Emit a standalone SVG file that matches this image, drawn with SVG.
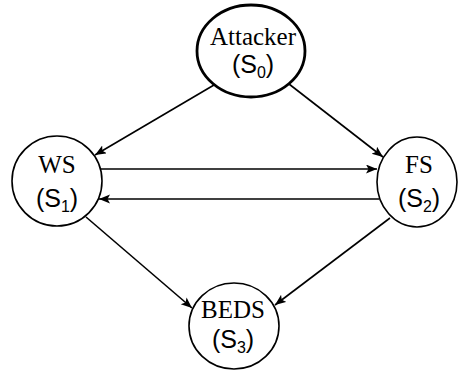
<svg xmlns="http://www.w3.org/2000/svg" width="458" height="370" viewBox="0 0 458 370">
  <style>
    .node { fill: #ffffff; stroke: #000000; stroke-width: 1.6; }
    .start { stroke-width: 2.8; }
    .name { font-family: "Liberation Serif", "Times New Roman", serif; font-size: 25px; fill: #000; text-anchor: middle; }
    .state { font-family: "Liberation Sans", Arial, sans-serif; font-size: 25px; fill: #000; text-anchor: middle; }
    .sub { font-size: 16px; }
    .edge { stroke: #000; stroke-width: 1.6; fill: none; marker-end: url(#arrow); }
  </style>
  <defs>
    <marker id="arrow" markerUnits="userSpaceOnUse" markerWidth="12" markerHeight="10" refX="11" refY="4.5" orient="auto">
      <path d="M0,0 L11,4.5 L0,9 L2.5,4.5 z" fill="#000"/>
    </marker>
  </defs>
  <rect width="458" height="370" fill="#ffffff"/>
  <g id="connectors">
    <line class="edge" x1="214" y1="85" x2="95" y2="155"/>
    <line class="edge" x1="289" y1="84" x2="383" y2="157"/>
    <line class="edge" x1="101" y1="169" x2="377" y2="169"/>
    <line class="edge" x1="379" y1="199" x2="99" y2="199"/>
    <line class="edge" x1="86" y1="217" x2="192" y2="308"/>
    <line class="edge" x1="390" y1="218" x2="275" y2="305"/>
  </g>
  <g id="attacker">
    <ellipse class="node start" cx="251" cy="51" rx="54" ry="46"/>
    <text class="name" x="253" y="45">Attacker</text>
    <text class="state" x="253" y="73">(S<tspan class="sub" dy="5">0</tspan><tspan dy="-5">)</tspan></text>
  </g>
  <g id="ws">
    <ellipse class="node" cx="57" cy="181" rx="45" ry="45"/>
    <text class="name" x="57" y="173">WS</text>
    <text class="state" x="57" y="207">(S<tspan class="sub" dy="5">1</tspan><tspan dy="-5">)</tspan></text>
  </g>
  <g id="fs">
    <ellipse class="node" cx="417" cy="182" rx="40" ry="45"/>
    <text class="name" x="419" y="173">FS</text>
    <text class="state" x="419" y="207">(S<tspan class="sub" dy="5">2</tspan><tspan dy="-5">)</tspan></text>
  </g>
  <g id="beds">
    <ellipse class="node" cx="234" cy="326" rx="45" ry="43"/>
    <text class="name" x="233" y="318">BEDS</text>
    <text class="state" x="233" y="348">(S<tspan class="sub" dy="5">3</tspan><tspan dy="-5">)</tspan></text>
  </g>
</svg>
